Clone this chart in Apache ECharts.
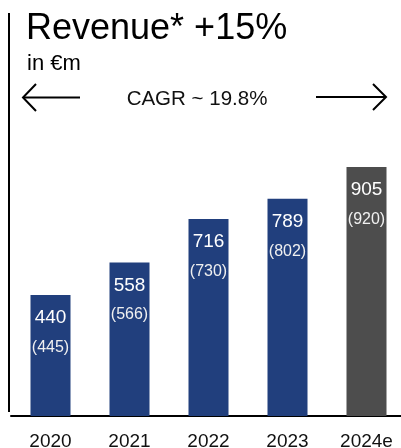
<!DOCTYPE html>
<html>
<head>
<meta charset="utf-8">
<script src="https://cdn.jsdelivr.net/npm/echarts@6/dist/echarts.min.js"></script>
<style>html,body{margin:0;padding:0;background:#fff;}#c{width:401px;height:448px;}</style>
</head>
<body>
<div id="c"></div>
<script>
const categories = ['2020', '2021', '2022', '2023', '2024e'];
const revenue = [440, 558, 716, 789, 905];
const revenueBracket = [445, 566, 730, 802, 920];
const titleText = 'Revenue* +15%';
const unitText = 'in €m';
const cagrText = 'CAGR ~ 19.8%';

const FONT = '"Liberation Sans", Arial, sans-serif';
const chart = echarts.init(document.getElementById('c'), null, {renderer: 'canvas'});
chart.setOption({
  backgroundColor: '#ffffff',
  animation: false,
  grid: {left: 11, width: 395, top: 140.8, bottom: 32, containLabel: false, outerBoundsMode: 'none'},
  xAxis: {
    type: 'category',
    data: categories,
    offset: 3,
    axisLine: {lineStyle: {color: '#000', width: 2}},
    axisTick: {show: false},
    axisLabel: {fontFamily: FONT, fontSize: 19, color: '#111', margin: 13}
  },
  yAxis: {type: 'value', min: 0, max: 1000, show: false, splitLine: {show: false}},
  series: [{
    type: 'bar',
    data: revenue.map((v, i) => ({
      value: v,
      itemStyle: {color: categories[i].endsWith('e') ? '#4d4d4d' : '#213f7d'}
    })),
    barWidth: 40,
    label: {
      show: true,
      position: 'insideTop',
      distance: 11,
      formatter: p => `{a|${p.value}}\n{b|(${revenueBracket[p.dataIndex]})}`,
      rich: {
        a: {fontFamily: FONT, fontSize: 19, color: '#fff', lineHeight: 24, align: 'center'},
        b: {fontFamily: FONT, fontSize: 16, color: '#f0f0f0', lineHeight: 35, align: 'center'}
      }
    }
  }],
  graphic: [
    {type: 'line', shape: {x1: 9, y1: 13, x2: 9, y2: 412}, style: {stroke: '#000', lineWidth: 2}},
    {type: 'text', left: 26, top: 11, style: {text: titleText, fontFamily: FONT, fontSize: 36, fill: '#000'}},
    {type: 'text', left: 27, top: 53, style: {text: unitText, fontFamily: FONT, fontSize: 22, fill: '#000'}},
    {type: 'text', x: 197, y: 99, style: {text: cagrText, fontFamily: FONT, fontSize: 20.5, fill: '#111', align: 'center', verticalAlign: 'middle'}},
    {type: 'line', shape: {x1: 23, y1: 97.5, x2: 80, y2: 97.5}, style: {stroke: '#000', lineWidth: 2}},
    {type: 'polyline', shape: {points: [[36, 84], [23, 97.5], [36, 111]]}, style: {stroke: '#000', lineWidth: 2, fill: null}},
    {type: 'line', shape: {x1: 316, y1: 97, x2: 386, y2: 97}, style: {stroke: '#000', lineWidth: 2}},
    {type: 'polyline', shape: {points: [[373, 84], [386, 97], [373, 110]]}, style: {stroke: '#000', lineWidth: 2, fill: null}}
  ]
});
</script>
</body>
</html>
